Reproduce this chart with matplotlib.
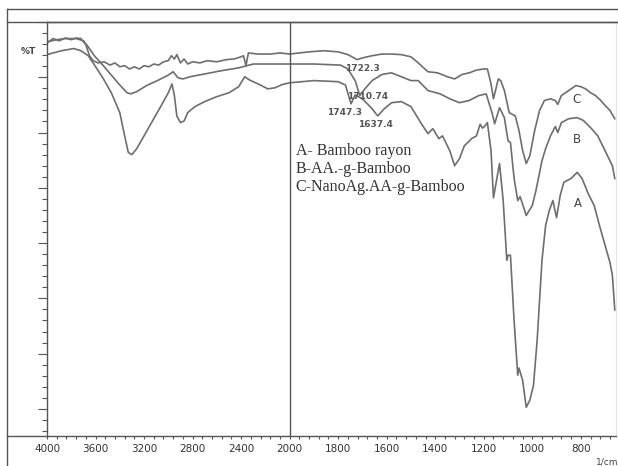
import numpy as np
import matplotlib
matplotlib.use("Agg")
import matplotlib.pyplot as plt
from matplotlib.lines import Line2D
from matplotlib.ticker import FixedLocator, NullFormatter, MultipleLocator

# wavenumber (1/cm) and %T
wn_a = [4000, 3950, 3880, 3780, 3720, 3660, 3620, 3540, 3470, 3400, 3360, 3330, 3300, 3260,
        3200, 3120, 3050, 3000, 2970, 2950, 2930, 2900, 2870, 2840, 2780, 2700, 2600, 2500,
        2420, 2370, 2330, 2250, 2180, 2120, 2060, 2000, 1900, 1800, 1770, 1747, 1730, 1700,
        1660, 1637, 1610, 1580, 1540, 1500, 1460, 1430, 1410, 1385, 1370, 1340, 1320, 1300,
        1280, 1250, 1230, 1215, 1205, 1195, 1185, 1170, 1160, 1135, 1120, 1105, 1100, 1090,
        1075, 1060, 1055, 1040, 1025, 1010, 995, 980, 960, 945, 930, 915, 900, 885, 870, 840,
        815, 795, 770, 745, 720, 700, 680, 670, 660]
t_a = [74.1, 74.4, 74.8, 75.2, 74.8, 73.9, 72.6, 69.9, 67.2, 63.6, 59.4, 56.4, 56.0, 57.1,
       59.4, 62.5, 65.2, 67.2, 68.8, 66.7, 63.0, 61.8, 62.1, 63.6, 64.7, 65.6, 66.5, 67.2,
       68.3, 70.1, 69.5, 68.7, 67.9, 68.1, 68.7, 69.0, 69.4, 69.2, 68.6, 65.2, 66.8, 66.1,
       64.3, 63.0, 64.3, 65.4, 65.6, 64.7, 61.8, 59.8, 60.7, 58.9, 59.4, 56.7, 54.0, 55.3,
       57.6, 58.9, 59.4, 61.5, 60.8, 61.2, 61.8, 56.7, 48.2, 54.4, 47.7, 36.9, 37.8, 37.8,
       26.0, 16.1, 17.4, 15.2, 10.3, 11.6, 14.3, 22.4, 36.9, 43.2, 45.9, 47.7, 44.6, 48.6,
       51.0, 51.7, 52.8, 51.7, 49.0, 46.8, 42.7, 39.6, 36.5, 34.2, 27.9]

wn_b = [4000, 3920, 3850, 3760, 3700, 3660, 3610, 3540, 3470, 3400, 3340, 3310, 3260, 3180,
        3080, 3000, 2960, 2920, 2880, 2820, 2700, 2560, 2420, 2300, 2150, 2000, 1900, 1790,
        1760, 1730, 1711, 1690, 1660, 1620, 1580, 1540, 1500, 1470, 1430, 1380, 1340, 1300,
        1260, 1220, 1190, 1165, 1155, 1135, 1115, 1100, 1090, 1075, 1060, 1050, 1025, 1000,
        985, 960, 945, 925, 905, 895, 880, 850, 815, 790, 760, 730, 710, 690, 670, 660]
t_b = [76.4, 76.8, 77.0, 77.0, 76.6, 75.5, 73.9, 72.2, 70.4, 68.6, 67.2, 67.0, 67.4, 68.5,
       69.5, 70.4, 71.0, 69.9, 69.7, 70.1, 70.6, 71.2, 71.7, 72.4, 72.4, 72.4, 72.4, 72.2,
       71.5, 69.4, 66.7, 67.9, 69.4, 70.5, 70.8, 70.1, 69.4, 69.4, 67.6, 67.0, 66.1, 65.4,
       65.8, 66.7, 67.0, 63.4, 61.6, 64.5, 62.7, 58.5, 58.2, 51.7, 47.7, 48.4, 45.0, 46.8,
       49.5, 54.9, 57.1, 59.4, 61.1, 60.0, 61.8, 62.5, 62.7, 62.2, 60.9, 59.4, 57.6, 55.8,
       54.0, 51.7]

wn_c = [4000, 3950, 3900, 3850, 3800, 3760, 3720, 3680, 3650, 3620, 3580, 3530, 3480, 3440,
        3400, 3360, 3320, 3280, 3240, 3200, 3160, 3120, 3080, 3040, 3000, 2975, 2950, 2930,
        2900, 2870, 2840, 2800, 2740, 2680, 2600, 2520, 2460, 2400, 2380, 2360, 2340, 2260,
        2160, 2080, 2000, 1920, 1860, 1800, 1760, 1722, 1700, 1660, 1620, 1580, 1540, 1500,
        1470, 1430, 1390, 1350, 1320, 1290, 1260, 1230, 1200, 1185, 1170, 1160, 1140, 1130,
        1115, 1095, 1070, 1055, 1040, 1025, 1010, 990, 970, 950, 925, 905, 895, 880, 850,
        820, 800, 780, 760, 740, 720, 700, 680, 660]
t_c = [76.2, 77.0, 76.6, 77.1, 76.8, 77.1, 77.0, 75.9, 73.9, 73.0, 72.6, 72.8, 72.2, 72.6,
       71.9, 72.1, 71.5, 71.9, 71.5, 72.1, 71.9, 72.4, 72.2, 72.8, 73.0, 73.9, 73.3, 74.1,
       72.6, 73.3, 72.4, 72.8, 72.6, 73.0, 72.8, 73.2, 73.3, 73.7, 73.9, 72.1, 74.4, 74.2,
       74.2, 74.4, 74.2, 74.6, 74.8, 74.6, 74.1, 73.2, 73.5, 73.9, 74.2, 74.2, 74.1, 73.7,
       72.6, 71.0, 70.8, 70.1, 69.7, 70.5, 70.8, 71.3, 71.5, 71.5, 68.8, 66.1, 69.7, 69.4,
       67.6, 63.6, 63.0, 60.4, 56.8, 54.4, 55.8, 60.4, 64.0, 65.8, 66.1, 65.8, 65.1, 66.7,
       67.6, 68.5, 68.3, 67.9, 67.2, 66.7, 65.9, 64.9, 64.0, 62.5]

legend_lines = ["A- Bamboo rayon", "B-AA.-g-Bamboo", "C-NanoAg.AA-g-Bamboo"]
peak_labels = [("1722.3", 1700, 71.5), ("1710.74", 1680, 66.6),
               ("1747.3", 1773, 63.7), ("1637.4", 1645, 61.4)]
curve_names = [("C", 816, 66.0), ("B", 816, 58.8), ("A", 812, 47.2)]
major_x = [4000, 3600, 3200, 2800, 2400, 2000, 1800, 1600, 1400, 1200, 1000, 800]


def fwd(x):
    x = np.asarray(x, dtype=float)
    return np.where(x >= 2000, x, 2 * x - 2000)


def inv(y):
    y = np.asarray(y, dtype=float)
    return np.where(y >= 2000, y, (y + 2000) / 2)


W, H = 618, 466
fig = plt.figure(figsize=(W / 100, H / 100), dpi=100)
ax = fig.add_axes([47 / W, 30 / H, (616 - 47) / W, (436 - 22) / H])
ax.set_xscale("function", functions=(fwd, inv))
ax.set_xlim(4000, 655)
ax.set_ylim(5.1, 80)

col = "#6e6e6e"
for wn, t in [(wn_a, t_a), (wn_b, t_b), (wn_c, t_c)]:
    ax.plot(wn, t, color=col, lw=1.2)

ax.axvline(2000, color="#555555", lw=1.0)

minor_x = list(np.arange(4000, 2000, -80)) + list(np.arange(2000, 650, -40))
ax.xaxis.set_major_locator(FixedLocator(major_x))
ax.xaxis.set_minor_locator(FixedLocator(minor_x))
ax.set_xticklabels([str(v) for v in major_x])
ax.xaxis.set_minor_formatter(NullFormatter())
ax.tick_params(axis="x", which="both", direction="out", length=2.5, width=0.8,
               color="#555555", labelsize=7.5, labelcolor="#333333", pad=3)

ax.yaxis.set_major_locator(MultipleLocator(10))
ax.yaxis.set_minor_locator(MultipleLocator(2))
ax.yaxis.set_major_formatter(NullFormatter())
ax.tick_params(axis="y", which="major", direction="out", length=6.5, width=0.8, color="#555555")
ax.tick_params(axis="y", which="minor", direction="out", length=3.3, width=0.8, color="#555555")

for s in ["left", "bottom", "top"]:
    ax.spines[s].set_color("#555555")
    ax.spines[s].set_linewidth(1.0)
ax.spines["right"].set_color("#e4e4e4")

for i, txt in enumerate(legend_lines):
    ax.text(0.437, 0.688 - i * 0.043, txt, transform=ax.transAxes,
            family="Liberation Serif", fontsize=11.5, color="#333333", va="center")

for txt, x, y in peak_labels:
    ax.text(x, y, txt, fontsize=6.5, color="#555555", ha="center", va="center",
            fontweight="bold")

for txt, x, y in curve_names:
    ax.text(x, y, txt, fontsize=8.5, color="#444444", ha="center", va="center")

fig.text(28 / W, 1 - 52 / H, "%T", fontsize=6.5, fontweight="bold", color="#444444",
         ha="center", va="center")
fig.text(607 / W, 1 - 462 / H, "1/cm", fontsize=6.5, color="#444444", ha="center", va="center")

# outer frame lines
lc = "#555555"
fig.add_artist(Line2D([7 / W, 1], [1 - 9 / H, 1 - 9 / H], color=lc, lw=1.0))
fig.add_artist(Line2D([7 / W, 1], [1 - 22 / H, 1 - 22 / H], color=lc, lw=1.0))
fig.add_artist(Line2D([7 / W, 7 / W], [1 - 9 / H, 0], color=lc, lw=1.0))
fig.add_artist(Line2D([7 / W, 47 / W], [30 / H, 30 / H], color=lc, lw=1.0))

fig.savefig("out.png", dpi=100)
